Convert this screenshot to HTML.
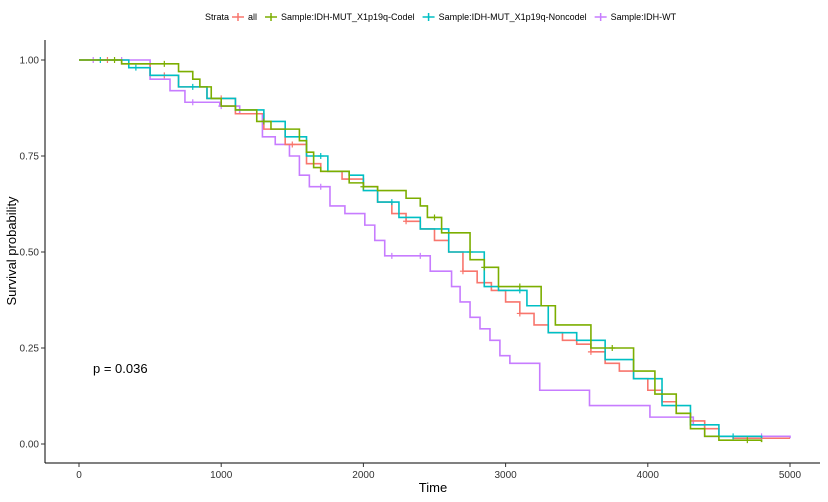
<!DOCTYPE html>
<html><head><meta charset="utf-8"><style>
body{margin:0;background:#fff;font-family:"Liberation Sans",sans-serif}
svg text{font-family:"Liberation Sans",sans-serif}
</style></head><body>
<svg id="c" width="828" height="497"></svg>
<script>
const seriesNames=["all","Sample:IDH-MUT_X1p19q-Codel","Sample:IDH-MUT_X1p19q-Noncodel","Sample:IDH-WT"];
const colors=["#F8766D","#7CAE00","#00BFC4","#C77CFF"];
const xTicks=[0,1000,2000,3000,4000,5000];
const yTicks=[0,0.25,0.5,0.75,1];
const allT=[0,300,500,700,900,1100,1300,1450,1600,1700,1850,2000,2100,2200,2300,2400,2500,2600,2700,2800,2900,3000,3100,3200,3300,3400,3500,3600,3700,3800,3900,4000,4100,4200,4300,4400,4500,4600,5000];
const allS=[1,0.99,0.96,0.93,0.90,0.86,0.82,0.78,0.73,0.71,0.69,0.67,0.63,0.60,0.58,0.56,0.53,0.50,0.45,0.42,0.40,0.37,0.34,0.31,0.29,0.27,0.26,0.24,0.21,0.19,0.17,0.14,0.11,0.08,0.06,0.04,0.02,0.015,0.015];
const codT=[0,300,700,800,850,930,1000,1100,1250,1350,1550,1600,1650,1700,1900,2000,2100,2300,2400,2450,2550,2750,2850,2950,3250,3350,3600,3900,4050,4200,4300,4400,4500,4800];
const codS=[1,0.99,0.97,0.95,0.93,0.90,0.88,0.87,0.84,0.82,0.79,0.76,0.72,0.71,0.68,0.67,0.66,0.64,0.62,0.59,0.55,0.48,0.46,0.41,0.36,0.31,0.25,0.19,0.13,0.08,0.04,0.02,0.01,0.005];
const nonT=[0,350,500,700,900,1100,1300,1450,1600,1750,1900,2000,2100,2250,2400,2600,2850,2950,3150,3300,3500,3700,3900,4100,4300,4500,4800];
const nonS=[1,0.98,0.96,0.93,0.90,0.87,0.84,0.80,0.75,0.71,0.70,0.66,0.63,0.59,0.56,0.50,0.41,0.40,0.36,0.29,0.27,0.22,0.17,0.10,0.05,0.02,0.015];
const wtT=[0,500,640,745,990,1130,1290,1380,1480,1550,1620,1765,1870,2010,2080,2150,2470,2620,2680,2750,2820,2890,2960,3030,3240,3590,4015,4320,4400,5000];
const wtS=[1,0.95,0.92,0.89,0.88,0.86,0.80,0.78,0.75,0.70,0.67,0.62,0.60,0.57,0.53,0.49,0.45,0.41,0.37,0.33,0.30,0.27,0.23,0.21,0.14,0.10,0.07,0.05,0.02,0.015];
const censT=[[200,600,1000,1500,1900,2300,2700,3100,3600,4500],[250,600,1300,2000,2500,2850,3100,3750,4700],[150,400,800,1300,1700,2200,2750,3100,4600],[100,300,800,1000,1700,2200,2400,4800]];
const T=[allT,codT,nonT,wtT],S=[allS,codS,nonS,wtS];
const ns="http://www.w3.org/2000/svg",svg=document.getElementById('c');
const X=t=>79+t*0.1422, Y=s=>444-s*384;
function el(tag,a,p){const e=document.createElementNS(ns,tag);for(const k in a)e.setAttribute(k,a[k]);(p||svg).appendChild(e);return e;}
function sAt(i,t){let s=S[i][0];for(let j=0;j<T[i].length;j++){if(T[i][j]<=t)s=S[i][j];}return s;}
let a=el('line',{x1:45,y1:40,x2:45,y2:463,stroke:'#000','stroke-width':1});

a=el('line',{x1:45,y1:463,x2:820,y2:463,stroke:'#000','stroke-width':1});

xTicks.forEach(t=>{el('line',{x1:X(t),x2:X(t),y1:463,y2:467,stroke:'#333'});
 const tx=el('text',{x:X(t),y:478,'text-anchor':'middle','font-size':10,fill:'#333'});tx.textContent=t;
 });
yTicks.forEach(v=>{el('line',{x1:41,x2:45,y1:Y(v),y2:Y(v),stroke:'#333'});
 const tx=el('text',{x:39,y:Y(v)+3.5,'text-anchor':'end','font-size':10,fill:'#333'});tx.textContent=v.toFixed(2);
 });
let t=el('text',{x:433,y:492,'text-anchor':'middle','font-size':13});t.textContent='Time';

t=el('text',{x:16,y:251,'text-anchor':'middle','font-size':13,transform:'rotate(-90 16 251)'});t.textContent='Survival probability';

t=el('text',{x:93,y:373,'font-size':13});t.textContent='p = 0.036';

[3,0,2,1].forEach(i=>{
 let d='M'+X(T[i][0])+' '+Y(S[i][0]);
 for(let j=1;j<T[i].length;j++){d+=' H'+X(T[i][j])+' V'+Y(S[i][j]);}
 const p=el('path',{d:d,fill:'none',stroke:colors[i],'stroke-width':1.6});
 
 censT[i].forEach(ct=>{const cx=X(ct),cy=Y(sAt(i,ct));
  const c=el('path',{d:`M${cx-3} ${cy}H${cx+3}M${cx} ${cy-3}V${cy+3}`,stroke:colors[i],'stroke-width':1.2});
  });
});
const lg=el('g',{});
let lx=205;
t=el('text',{x:lx,y:20,'font-size':9,fill:'#000'},lg);t.textContent='Strata';

lx=232;
seriesNames.forEach((n,i)=>{
 const g=el('g',{},lg);
 el('path',{d:`M${lx} 17H${lx+12}M${lx+6} 13V21`,stroke:colors[i],'stroke-width':1.5},g);
 const tx=el('text',{x:lx+16,y:20,'font-size':9},g);tx.textContent=n;
 lx+=16+tx.getComputedTextLength()+8;
});
</script>
</body></html>
